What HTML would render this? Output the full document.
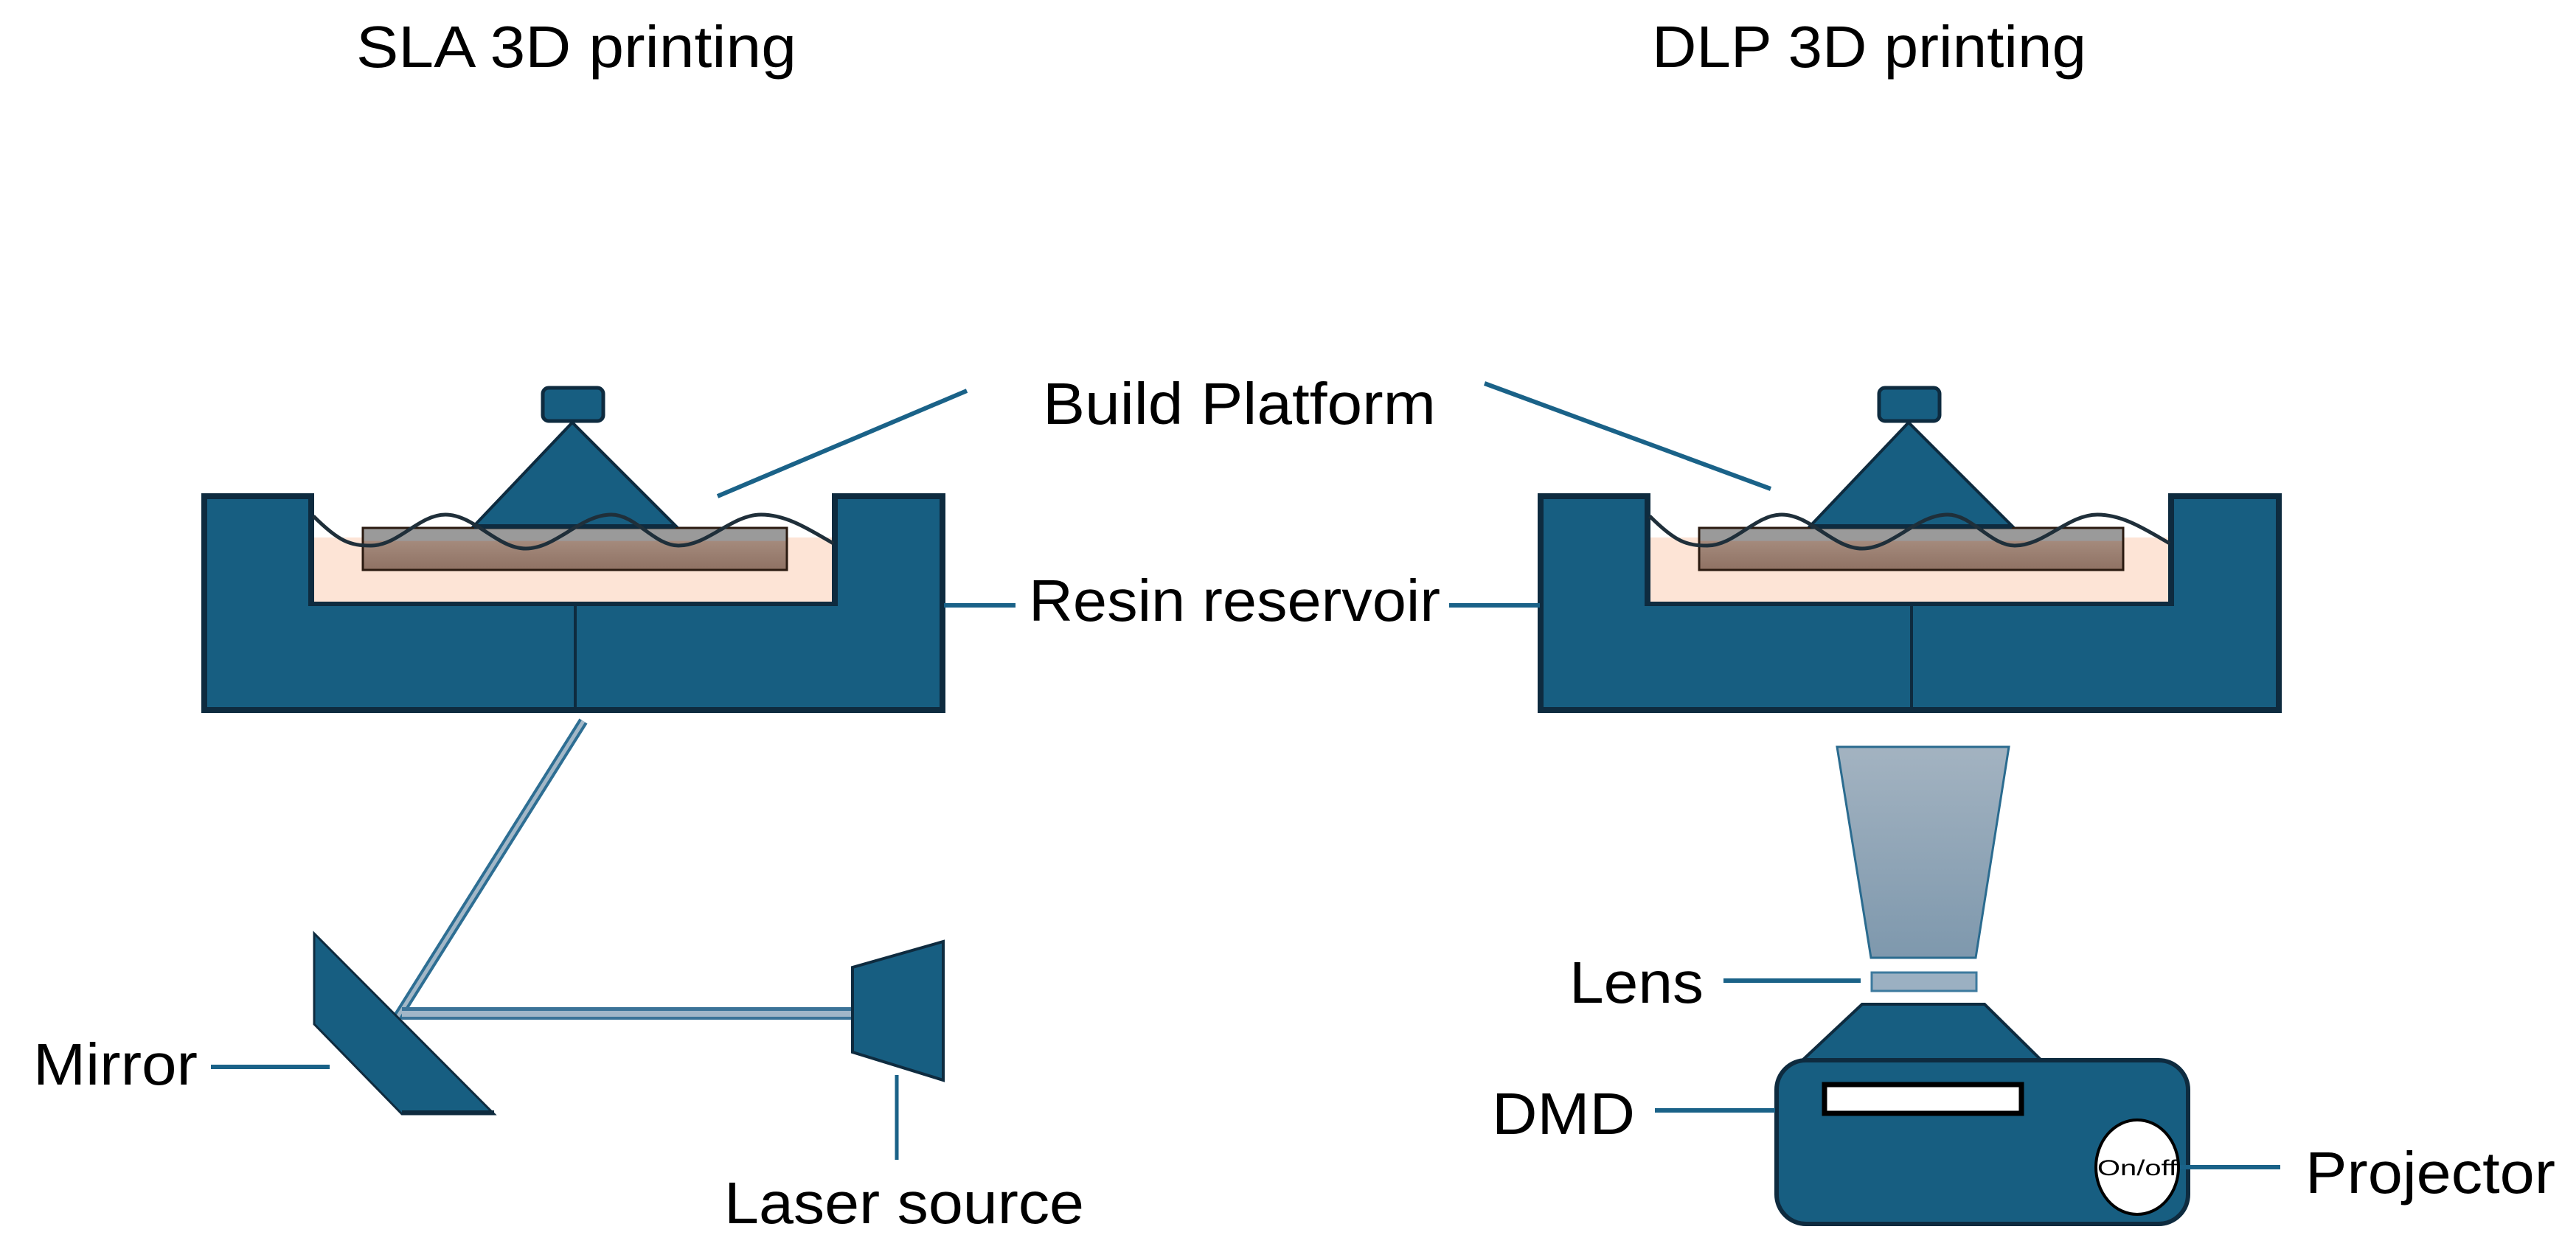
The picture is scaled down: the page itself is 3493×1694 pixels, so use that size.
<!DOCTYPE html>
<html><head><meta charset="utf-8"><style>
html,body{margin:0;padding:0;background:#fff;}
svg{display:block;}
text{font-family:"Liberation Sans Narrow","Liberation Sans",sans-serif;font-size:80px;fill:#000;}
</style></head><body>
<svg width="3493" height="1694" viewBox="0 0 3493 1694" xmlns="http://www.w3.org/2000/svg">
<defs>
<linearGradient id="plate" x1="0" y1="0" x2="0" y2="1">
<stop offset="0" stop-color="#9a9a9a"/><stop offset="0.3" stop-color="#9a9a9a"/><stop offset="0.32" stop-color="#a48a7c"/><stop offset="1" stop-color="#8f7264"/>
</linearGradient>
<linearGradient id="beam" x1="0" y1="0" x2="0" y2="1">
<stop offset="0" stop-color="#a3b3c1"/><stop offset="1" stop-color="#7e98ad"/>
</linearGradient>
<g id="vat">
<path d="M277 673 H422 V818 H1132 V673 H1278 V963 H277 Z" fill="#175e81" stroke="#0e2b3f" stroke-width="8"/>
<rect x="426" y="729" width="702" height="87" fill="#fde4d6"/>
<line x1="780" y1="818" x2="780" y2="963" stroke="#0e2b3f" stroke-width="4"/>
<rect x="492" y="716" width="575" height="57" fill="url(#plate)" stroke="#2a1a10" stroke-width="3"/>
<polygon points="776,573 643,713 916,713" fill="#175e81" stroke="#0e2b3f" stroke-width="4"/>
<line x1="643" y1="714" x2="916" y2="714" stroke="#0e2b3f" stroke-width="6"/>
<rect x="736" y="526" width="82" height="45" rx="8" fill="#175e81" stroke="#0e2b3f" stroke-width="5"/>
<path d="M425 700 C460 735 475 740 503 740 C540 740 568 698 604 698 C643 698 674 744 713 744 C754 744 787 698 829 698 C862 698 887 740 920 740 C960 740 992 698 1032 698 C1068 698 1100 720 1130 737" fill="none" stroke="#1f2f3a" stroke-width="5"/>
</g>
</defs>

<text x="483" y="91" textLength="597" lengthAdjust="spacingAndGlyphs">SLA  3D printing</text>
<text x="2240" y="91" textLength="589" lengthAdjust="spacingAndGlyphs">DLP 3D printing</text>

<use href="#vat"/>
<use href="#vat" transform="translate(1812,0)"/>

<text x="1414" y="575" textLength="533" lengthAdjust="spacingAndGlyphs">Build Platform</text>
<line x1="973" y1="673" x2="1311" y2="530" stroke="#1a6288" stroke-width="6"/>
<line x1="2013" y1="520" x2="2401" y2="663" stroke="#1a6288" stroke-width="6"/>

<text x="1395" y="842" textLength="558" lengthAdjust="spacingAndGlyphs">Resin reservoir</text>
<line x1="1280" y1="821" x2="1377" y2="821" stroke="#1a6288" stroke-width="6"/>
<line x1="1965" y1="821" x2="2088" y2="821" stroke="#1a6288" stroke-width="6"/>

<line x1="791" y1="978" x2="538" y2="1381" stroke="#2d6e93" stroke-width="13"/>
<line x1="791" y1="978" x2="538" y2="1381" stroke="#a2b7c7" stroke-width="5"/>
<rect x="545" y="1366" width="612" height="17" fill="#3b7398"/>
<rect x="545" y="1371" width="612" height="8" fill="#a1b6c8"/>

<polygon points="426,1266 670,1511 545,1511 426,1389" fill="#175e81" stroke="#0e2b3f" stroke-width="3"/>
<line x1="545" y1="1509" x2="670" y2="1509" stroke="#0e2b3f" stroke-width="6"/>
<text x="45" y="1471" textLength="223" lengthAdjust="spacingAndGlyphs">Mirror</text>
<line x1="286" y1="1447" x2="447" y2="1447" stroke="#1a6288" stroke-width="6"/>

<polygon points="1156,1312 1279,1277 1279,1465 1156,1427" fill="#175e81" stroke="#0e2b3f" stroke-width="4"/>
<line x1="1216" y1="1458" x2="1216" y2="1573" stroke="#1a6288" stroke-width="5"/>
<text x="982" y="1659" textLength="488" lengthAdjust="spacingAndGlyphs">Laser source</text>

<polygon points="2491,1013 2724,1013 2679,1299 2537,1299" fill="url(#beam)" stroke="#2a6b8f" stroke-width="3"/>
<rect x="2538" y="1319" width="142" height="25" fill="#9bb0c2" stroke="#3d7a9e" stroke-width="3"/>
<text x="2128" y="1360" textLength="182" lengthAdjust="spacingAndGlyphs">Lens</text>
<line x1="2337" y1="1330" x2="2523" y2="1330" stroke="#1a6288" stroke-width="6"/>

<polygon points="2525,1362 2691,1362 2767,1437 2445,1437" fill="#175e81" stroke="#0e2b3f" stroke-width="4"/>
<rect x="2409" y="1438" width="558" height="222" rx="40" fill="#175e81" stroke="#0e2b3f" stroke-width="6"/>
<rect x="2474" y="1471" width="267" height="39" fill="#fff" stroke="#000" stroke-width="7"/>
<ellipse cx="2898" cy="1583" rx="56" ry="64" fill="#fff" stroke="#000" stroke-width="4"/>
<text x="2898" y="1594" text-anchor="middle" style="font-size:30px" textLength="108" lengthAdjust="spacingAndGlyphs">On/off</text>

<text x="2023" y="1538" textLength="194" lengthAdjust="spacingAndGlyphs">DMD</text>
<line x1="2244" y1="1506" x2="2407" y2="1506" stroke="#1a6288" stroke-width="6"/>
<line x1="2956" y1="1583" x2="3092" y2="1583" stroke="#1a6288" stroke-width="6"/>
<text x="3126" y="1618" textLength="339" lengthAdjust="spacingAndGlyphs">Projector</text>
</svg>
</body></html>
